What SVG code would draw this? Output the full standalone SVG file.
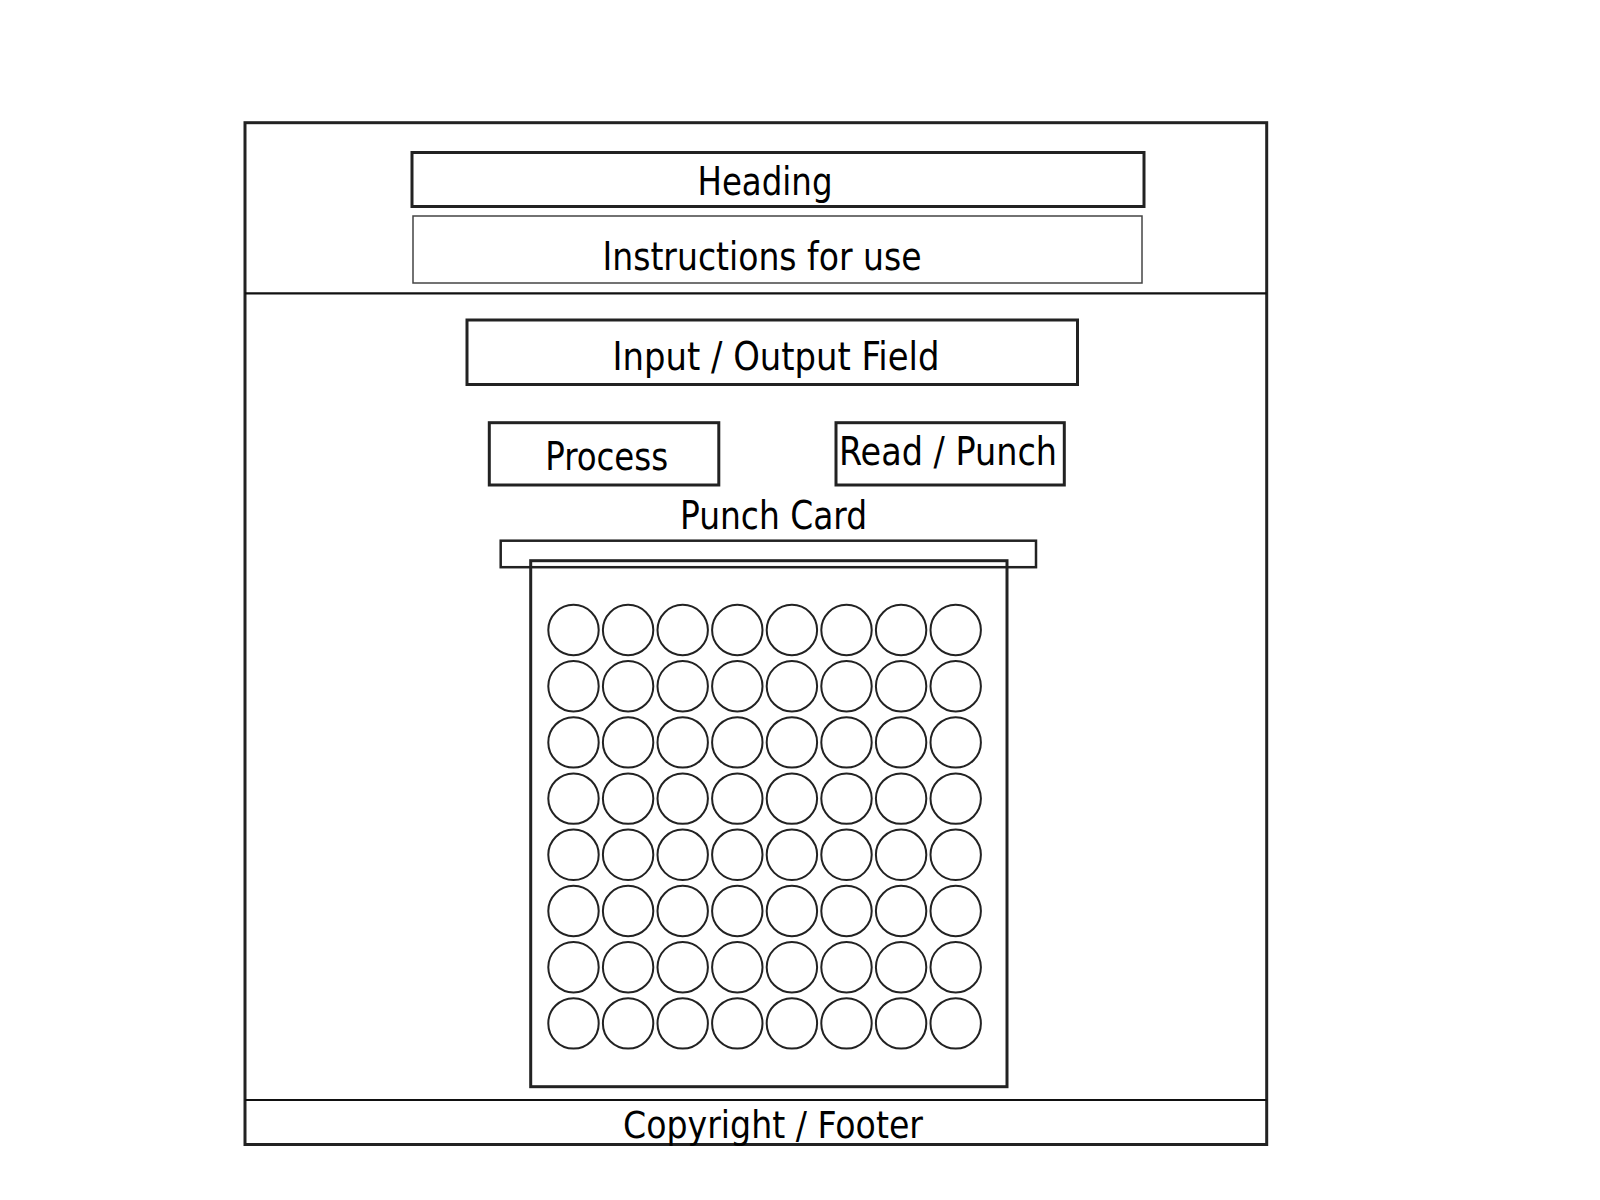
<svg xmlns="http://www.w3.org/2000/svg" width="1600" height="1200" viewBox="0 0 1600 1200">
  <style>
    .frame { fill: none; stroke: #222; stroke-width: 3; }
    .box { fill: none; stroke: #222; stroke-width: 3; }
    .thin { fill: none; stroke: #444; stroke-width: 1.5; }
    .rule { stroke: #111; stroke-width: 2.2; }
    .hole { fill: none; stroke: #222; stroke-width: 2; }
    .lbl { font-family: "DejaVu Sans Condensed", "DejaVu Sans", sans-serif; font-stretch: condensed; font-size: 38.5px; fill: #000; text-anchor: middle; }
  </style>
  <defs>
    <!-- one row of eight punch holes -->
    <g id="holeRow">
      <circle class="hole" cx="573.5" cy="0" r="25.2"/>
      <circle class="hole" cx="628.1" cy="0" r="25.2"/>
      <circle class="hole" cx="682.7" cy="0" r="25.2"/>
      <circle class="hole" cx="737.3" cy="0" r="25.2"/>
      <circle class="hole" cx="791.9" cy="0" r="25.2"/>
      <circle class="hole" cx="846.5" cy="0" r="25.2"/>
      <circle class="hole" cx="901.1" cy="0" r="25.2"/>
      <circle class="hole" cx="955.7" cy="0" r="25.2"/>
    </g>
  </defs>
  <rect width="1600" height="1200" fill="#fff"/>

  <!-- page frame with header and footer rules -->
  <g id="page">
    <rect class="frame" x="245" y="122.7" width="1021.7" height="1021.8"/>
    <line class="rule" x1="245" y1="293.3" x2="1266.7" y2="293.3"/>
    <line class="rule" x1="245" y1="1100" x2="1266.7" y2="1100"/>
  </g>

  <g id="heading">
    <rect class="box" x="412" y="152.5" width="732" height="54"/>
    <text class="lbl" x="765" y="195" textLength="135" lengthAdjust="spacingAndGlyphs">Heading</text>
  </g>

  <g id="instructions">
    <rect class="thin" x="413" y="216" width="729" height="67"/>
    <text class="lbl" x="762" y="270" textLength="319" lengthAdjust="spacingAndGlyphs">Instructions for use</text>
  </g>

  <g id="io-field">
    <rect class="box" x="467" y="320" width="610.5" height="64.5"/>
    <text class="lbl" x="776" y="370" textLength="327" lengthAdjust="spacingAndGlyphs">Input / Output Field</text>
  </g>

  <g id="process">
    <rect class="box" x="489.3" y="422.7" width="229.5" height="62.3"/>
    <text class="lbl" x="606.7" y="470" textLength="123" lengthAdjust="spacingAndGlyphs">Process</text>
  </g>

  <g id="read-punch">
    <rect class="box" x="836" y="422.7" width="228.3" height="62.3"/>
    <text class="lbl" x="948" y="465" textLength="218" lengthAdjust="spacingAndGlyphs">Read / Punch</text>
  </g>

  <g id="punch-card">
    <text class="lbl" x="773.5" y="529.3" textLength="187" lengthAdjust="spacingAndGlyphs">Punch Card</text>
    <rect class="box" x="500.7" y="540.7" width="535.3" height="26.5" style="stroke-width:2.5"/>
    <rect class="box" x="530.7" y="560.7" width="476.3" height="526"/>
    <use href="#holeRow" y="630"/>
    <use href="#holeRow" y="686.2"/>
    <use href="#holeRow" y="742.4"/>
    <use href="#holeRow" y="798.6"/>
    <use href="#holeRow" y="854.8"/>
    <use href="#holeRow" y="911"/>
    <use href="#holeRow" y="967.2"/>
    <use href="#holeRow" y="1023.4"/>
  </g>

  <g id="footer">
    <text class="lbl" x="773" y="1138.3" textLength="300" lengthAdjust="spacingAndGlyphs" style="font-size:37px">Copyright / Footer</text>
  </g>

  <!-- no connectors in this layout -->
  <g id="connectors"/>
</svg>
